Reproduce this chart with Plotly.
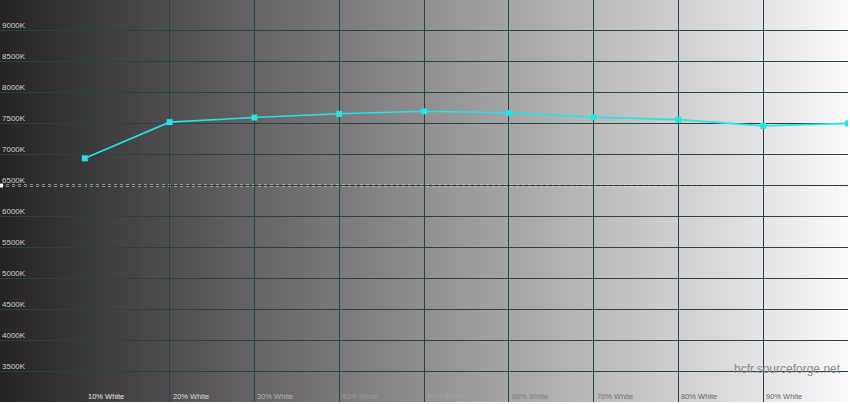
import plotly.graph_objects as go

# ---- data ----
levels = [10, 20, 30, 40, 50, 60, 70, 80, 90, 100]
color_temp = [6940, 7525, 7600, 7660, 7700, 7675, 7605, 7565, 7465, 7505]
x_tick_vals = [10, 20, 30, 40, 50, 60, 70, 80, 90]
x_tick_labels = ["10% White", "20% White", "30% White", "40% White", "50% White",
                 "60% White", "70% White", "80% White", "90% White"]
y_tick_vals = [3500, 4000, 4500, 5000, 5500, 6000, 6500, 7000, 7500, 8000, 8500, 9000]
y_tick_labels = ["3500K", "4000K", "4500K", "5000K", "5500K", "6000K",
                 "6500K", "7000K", "7500K", "8000K", "8500K", "9000K"]
reference_temp = 6500

# ---- styles ----
x_label_colors = ["#e6e6e6", "#dedede", "#b4b4b4", "#9a9a9a", "#a4a4a4",
                  "#808080", "#707070", "#686868", "#646464"]
FONT = "Liberation Sans, Arial, sans-serif"
GRID = "#23473f"
CYAN = "#22e4e4"

fig = go.Figure()

# background gradient (decoration)
shapes = []
n_strips = 212
for i in range(n_strips):
    x0 = 100 * i / n_strips
    x1 = 100 * (i + 1) / n_strips
    t = (i + 0.5) / n_strips
    r = int(38 + (250 - 38) * t)
    g = int(35 + (250 - 35) * t)
    b = int(37 + (252 - 37) * t)
    shapes.append(dict(type="rect", xref="x", yref="paper", x0=x0, x1=x1 + 0.05,
                       y0=0, y1=1, fillcolor=f"rgb({r},{g},{b})",
                       line=dict(width=0), layer="below"))

# 6500K reference dotted line
shapes.append(dict(type="line", xref="paper", yref="y", x0=0, x1=1,
                   y0=reference_temp, y1=reference_temp,
                   line=dict(color="#e8e8e8", width=2, dash="dot"), layer="between"))
shapes.append(dict(type="rect", xref="paper", yref="y", xsizemode="pixel", xanchor=0,
                   x0=0, x1=3, ysizemode="pixel", yanchor=reference_temp, y0=-2, y1=2,
                   fillcolor="white", line=dict(width=0), layer="above"))

fig.add_trace(go.Scatter(
    x=levels, y=color_temp, mode="lines+markers",
    line=dict(color=CYAN, width=1.6),
    marker=dict(symbol="square", size=6, color=CYAN),
    hoverinfo="x+y", showlegend=False,
))

annotations = []
for v, lab in zip(y_tick_vals, y_tick_labels):
    annotations.append(dict(text=lab, xref="paper", yref="y", x=0, y=v,
                            xanchor="left", yanchor="middle", yshift=5, xshift=0,
                            showarrow=False,
                            font=dict(family=FONT, size=8, color="#cfcfcf")))
for v, lab, c in zip(x_tick_vals, x_tick_labels, x_label_colors):
    annotations.append(dict(text=lab, xref="x", yref="paper", x=v, y=0,
                            xanchor="left", yanchor="bottom", xshift=1, yshift=-1,
                            showarrow=False,
                            font=dict(family=FONT, size=7.5, color=c)))
annotations.append(dict(text="hcfr.sourceforge.net", xref="x", yref="y",
                        x=99.4, y=3535, xanchor="right", yanchor="middle",
                        showarrow=False,
                        font=dict(family=FONT, size=12, color="#8a8a8a")))

fig.update_layout(
    width=850, height=404,
    margin=dict(l=0, r=2, t=0, b=2),
    paper_bgcolor="white", plot_bgcolor="#808080",
    shapes=shapes, annotations=annotations,
    xaxis=dict(range=[0, 100], tickvals=x_tick_vals, showticklabels=False,
               showgrid=True, gridcolor=GRID, gridwidth=1, zeroline=False,
               ticks="", fixedrange=True),
    yaxis=dict(range=[3000, 9500], tickvals=y_tick_vals, showticklabels=False,
               showgrid=True, gridcolor=GRID, gridwidth=1, zeroline=False,
               ticks="", fixedrange=True),
    showlegend=False,
)

fig.write_html("out.html", config={"displayModeBar": False},
               post_script="document.body.style.margin='0';document.body.style.overflow='hidden';")
